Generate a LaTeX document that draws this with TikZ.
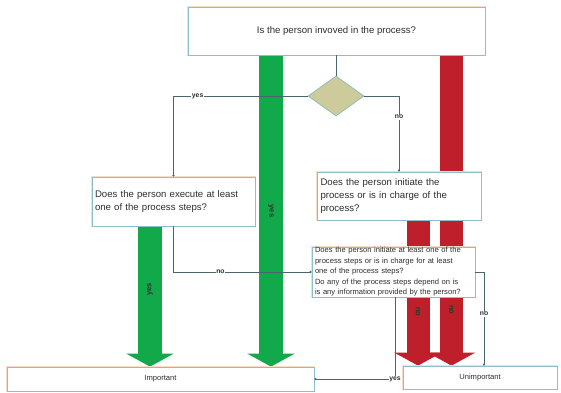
\documentclass[tikz,border=0pt]{standalone}
\usepackage{fontspec}
\setmainfont{Liberation Sans}
\usetikzlibrary{arrows.meta,shapes.geometric}
\definecolor{boxline}{HTML}{8CBFC6}
\definecolor{shad}{HTML}{F7DCC8}
\definecolor{conn}{HTML}{4A6470}
\definecolor{gbar}{HTML}{12A94B}
\definecolor{rbar}{HTML}{BE1F2A}
\definecolor{dia}{HTML}{CDCB9C}
\definecolor{diaedge}{HTML}{8DBFB8}
\definecolor{txt}{HTML}{2E2E2E}
\pgfdeclarelayer{bg}
\pgfsetlayers{bg,main}
\begin{document}
\begin{tikzpicture}[x=1pt,y=-1pt,
  qbox/.style={rectangle, draw=boxline, line width=0.8pt, fill=white,
    preaction={draw=shad, line width=1.6pt}, inner sep=0pt, text=txt},
  bigtext/.style={font=\fontsize{9.6}{13}\selectfont},
  smalltext/.style={font=\fontsize{7.6}{10.5}\selectfont},
  conn/.style={draw=conn, line width=0.6pt},
  dot/.style={-{Circle[length=2.2pt]}},
  lbl/.style={font=\fontsize{6.8}{7}\selectfont\bfseries, fill=white, inner sep=0.6pt, text=txt},
  gbarst/.style={draw=gbar, line width=24pt, -{Triangle[length=13pt, width=47pt]}},
  rbarst/.style={draw=rbar, line width=23pt, -{Triangle[length=13pt, width=47pt]}},
  barlbl/.style={font=\fontsize{7.6}{8}\selectfont\bfseries, text=black!80, inner sep=0pt}
]
\useasboundingbox (0,0) rectangle (561,392);

\node[qbox, bigtext, minimum width=297pt, minimum height=48pt] (top) at (336.5,31) {Is the person invoved in the process?};
\node[diamond, draw=diaedge, fill=dia, line width=0.8pt, minimum width=56pt, minimum height=40pt, inner sep=0pt] (dia) at (336,96) {};
\node[qbox, bigtext, minimum width=163pt, minimum height=49pt, text width=157pt, align=left] (left) at (173.5,201.5) {Does the person execute at least\\one of the process steps?};
\node[qbox, bigtext, minimum width=164pt, minimum height=48pt, text width=157pt, align=left] (mid) at (399,196) {Does the person initiate the\\process or is in charge of the\\process?};
\node[qbox, smalltext, minimum width=163pt, minimum height=50pt, text width=157pt, align=left] (low) at (393.5,272) {Does the person initiate at least one of the\\process steps or is in charge for at least\\one of the process steps?\\Do any of the process steps depend on is\\is any information provided by the person?};
\node[qbox, smalltext, minimum width=307pt, minimum height=24pt] (imp) at (160.5,379) {Important};
\node[qbox, smalltext, minimum width=154pt, minimum height=23pt] (unimp) at (480,377.5) {Unimportant};

\coordinate (gA) at (271,0);
\coordinate (gB) at (150,0);
\coordinate (rA) at (418,0);
\coordinate (rB) at (451.5,0);
\coordinate (nx) at (484,0);
\coordinate (yx) at (395,0);

\begin{pgfonlayer}{bg}
\fill[white] (0,0) rectangle (561,392);
\draw[gbarst] (top.south -| gA) -- (imp.north -| gA) node[barlbl, pos=0.5, rotate=-90] {yes};
\draw[gbarst] (left.south -| gB) -- (imp.north -| gB) node[barlbl, pos=0.45, rotate=90] {yes};
\draw[rbarst] (mid.south -| rA) -- (unimp.north -| rA) node[barlbl, pos=0.63, rotate=-90] {no};
\draw[rbarst] (top.south -| rB) -- (unimp.north -| rB) node[barlbl, pos=0.82, rotate=-90] {no};
\end{pgfonlayer}

\draw[conn] (top.south -| dia.north) -- (dia.north);
\draw[conn, dot] (dia.west) -| (left.north) node[lbl, pos=0.41] {yes};
\draw[conn, dot] (dia.east) -| (mid.north) node[lbl, pos=0.64] {no};
\draw[conn, dot] (left.south) |- (low.west) node[lbl, pos=0.67] {no};
\draw[conn, dot] (low.east) -- (low.east -| nx) -- (unimp.north -| nx) node[lbl, pos=0.45] {no};
\draw[conn, dot] (low.south -| yx) |- (imp.east) node[lbl, pos=0.5] {yes};
\end{tikzpicture}
\end{document}
